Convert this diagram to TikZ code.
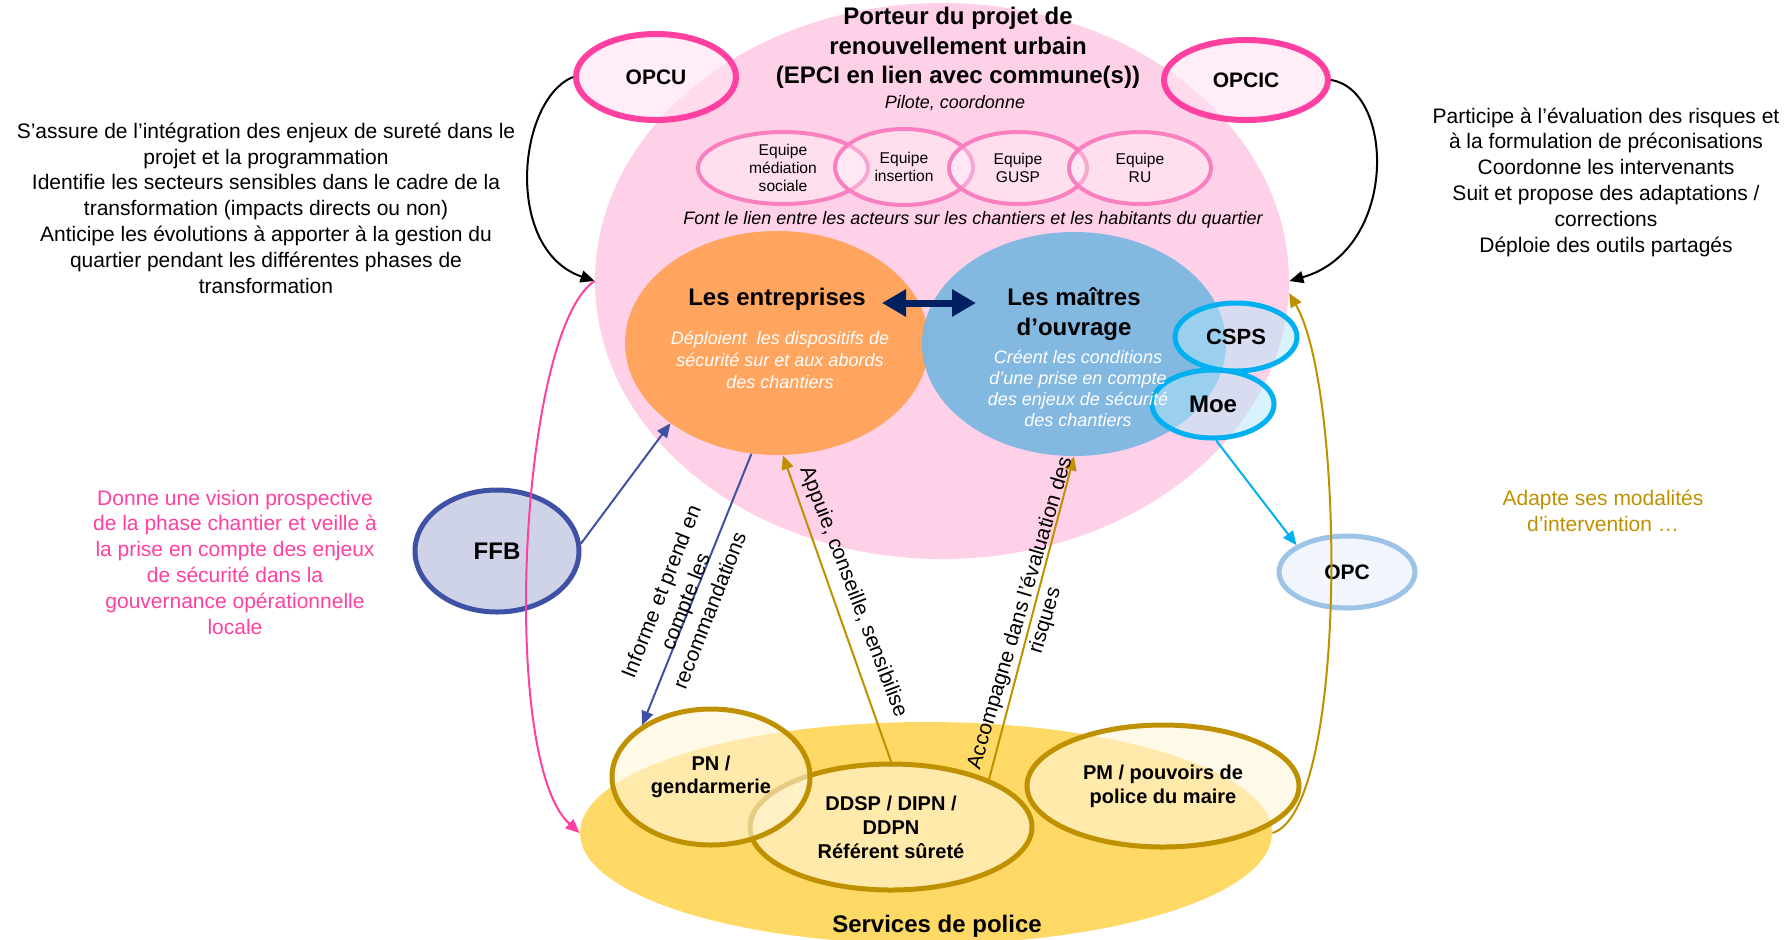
\documentclass[tikz,border=0pt]{standalone}
\usepackage{fontspec}
\setmainfont{Liberation Sans}
\usepackage{tikz}
\usetikzlibrary{arrows.meta,shapes.geometric}

\definecolor{rosefond}{RGB}{255,209,232}
\definecolor{roseopc}{RGB}{255,64,160}
\definecolor{roseequipe}{RGB}{248,128,192}
\definecolor{orangeent}{RGB}{255,165,95}
\definecolor{bleumo}{RGB}{124,183,224}
\definecolor{marine}{RGB}{0,32,96}
\definecolor{cyanmoe}{RGB}{0,176,240}
\definecolor{bleuopc}{RGB}{157,195,230}
\definecolor{indigoffb}{RGB}{63,81,165}
\definecolor{jaunepol}{RGB}{255,217,102}
\definecolor{orpol}{RGB}{191,144,0}

\tikzset{
  bulle/.style={ellipse, inner sep=0pt, align=center},
  opcbulle/.style={bulle, draw=roseopc, line width=3pt, fill=rosefond!60, fill opacity=0.6, text opacity=1, font=\bfseries\fontsize{10.5}{12}\selectfont},
  equipe/.style={bulle, draw=roseequipe, line width=2pt, fill=white, fill opacity=0.3, text opacity=1, font=\fontsize{7.8}{9}\selectfont},
  moebulle/.style={bulle, draw=cyanmoe, line width=2.5pt, fill=cyanmoe!30, fill opacity=0.5, text opacity=1},
  service/.style={bulle, draw=orpol, line width=2.5pt, fill=jaunepol!25, fill opacity=0.6, text opacity=1, font=\bfseries\fontsize{10}{12}\selectfont},
  titre/.style={align=center, inner sep=0pt, font=\bfseries\fontsize{12}{15}\selectfont},
  role/.style={align=center, inner sep=0pt, text=white, font=\itshape\fontsize{9}{11}\selectfont},
  texte/.style={align=center, inner sep=0pt, font=\fontsize{10.5}{12.9}\selectfont},
  lien/.style={align=center, inner sep=0pt, font=\fontsize{10.5}{13}\selectfont},
  fleche/.style={->, line width=1pt}
}

\begin{document}
\begin{tikzpicture}[x=0.5pt, y=-0.5pt, >={Triangle[length=7pt,width=6pt]}]
  \useasboundingbox (0,0) rectangle (1789,939);

  \node[bulle, fill=rosefond, minimum width=347pt, minimum height=278pt] (Porteur) at (942,281) {};
  \node[opcbulle, minimum width=80pt, minimum height=43pt] (OPCU) at (656,77) {OPCU};
  \node[opcbulle, minimum width=82pt, minimum height=40pt] (OPCIC) at (1246,80) {OPCIC};
  \node[titre, font=\bfseries\fontsize{12}{14.75}\selectfont] (PorteurT) at (958,48) {Porteur du projet de\\renouvellement urbain\\(EPCI en lien avec commune(s))};
  \node[texte, font=\itshape\fontsize{9}{11}\selectfont] (Pilote) at (955,103) {Pilote, coordonne};

  \node[equipe, minimum width=85pt, minimum height=36pt] (EqMediation) at (783,168) {Equipe\\médiation\\sociale};
  \node[equipe, minimum width=69pt, minimum height=38pt] (EqInsertion) at (904,167) {Equipe\\insertion};
  \node[equipe, minimum width=69pt, minimum height=36pt] (EqGUSP) at (1018,168) {Equipe\\GUSP};
  \node[equipe, minimum width=71pt, minimum height=36pt] (EqRU) at (1140,168) {Equipe\\RU};
  \node[texte, font=\itshape\fontsize{9}{11}\selectfont] (LienHab) at (973,220) {Font le lien entre les acteurs sur les chantiers et les habitants du quartier};

  \node[bulle, fill=orangeent, minimum width=152pt, minimum height=112pt] (Entreprises) at (777,343) {};
  \node[bulle, fill=bleumo, fill opacity=0.94, minimum width=152pt, minimum height=112pt] (Maitres) at (1074,344) {};
  \node[titre] (EntreprisesT) at (777,299) {Les entreprises};
  \node[role] (EntreprisesR) at (780,360) {Déploient\ \ les dispositifs de\\sécurité sur et aux abords\\des chantiers};
  \node[titre] (MaitresT) at (1074,314) {Les maîtres\\d’ouvrage};
  \coordinate (LienE) at (882,303);
  \coordinate (LienM) at (976,303);
  \draw[<->, draw=marine, line width=3.5pt, >={Triangle[length=12pt,width=13pt]}] (LienE) -- (LienM);

  \node[moebulle, minimum width=61pt, minimum height=34pt, font=\bfseries\fontsize{11}{12}\selectfont] (CSPS) at (1236,337) {CSPS};
  \node[moebulle, minimum width=61pt, minimum height=34pt, font=\bfseries\fontsize{12}{13}\selectfont] (Moe) at (1213,404) {Moe};
  \node[role, font=\itshape\fontsize{9}{10.5}\selectfont] (MaitresR) at (1078,388) {Créent les conditions\\d’une prise en compte\\des enjeux de sécurité\\des chantiers};
  \node[bulle, draw=bleuopc, line width=2.5pt, fill=bleuopc!15, minimum width=68pt, minimum height=36pt, font=\bfseries\fontsize{10.5}{12}\selectfont] (OPC) at (1347,572) {OPC};
  \node[bulle, draw=indigoffb, line width=2.5pt, fill=indigoffb!25, minimum width=82pt, minimum height=61pt, font=\bfseries\fontsize{12}{13}\selectfont] (FFB) at (497,551) {FFB};

  \node[bulle, fill=jaunepol, minimum width=346pt, minimum height=111pt] (Police) at (926,833) {};
  \node[service, minimum width=141pt, minimum height=63pt] (DDSP) at (891,827) {DDSP / DIPN /\\DDPN\\Référent sûreté};
  \node[service, minimum width=99pt, minimum height=68pt, font=\bfseries\fontsize{10}{11.5}\selectfont] (PN) at (711,777) {PN /\\gendarmerie};
  \node[service, minimum width=136pt, minimum height=61pt] (PM) at (1163,786) {PM / pouvoirs de\\police du maire};
  \node[titre] (PoliceT) at (937,926) {Services de police};

  \node[texte] (MissionOPCU) at (266,208) {S’assure de l’intégration des enjeux de sureté dans le\\projet et la programmation\\Identifie les secteurs sensibles dans le cadre de la\\transformation (impacts directs ou non)\\Anticipe les évolutions à apporter à la gestion du\\quartier pendant les différentes phases de\\transformation};
  \node[texte] (MissionOPCIC) at (1606,182) {Participe à l’évaluation des risques et\\à la formulation de préconisations\\Coordonne les intervenants\\Suit et propose des adaptations /\\corrections\\Déploie des outils partagés};
  \node[texte, text=roseopc] (MissionFFB) at (235,562) {Donne une vision prospective\\de la phase chantier et veille à\\la prise en compte des enjeux\\de sécurité dans la\\gouvernance opérationnelle\\locale};
  \node[texte, text=orpol] (MissionPM) at (1603,511) {Adapte ses modalités\\d’intervention …};

  \draw[fleche, draw=indigoffb, fill=indigoffb] (FFB.5) -- (Entreprises.-143);
  \draw[fleche, draw=indigoffb, fill=indigoffb] (Entreprises.-103) -- (PN.143);
  \draw[fleche, draw=orpol, fill=orpol] (DDSP.90) -- (Entreprises.-87);
  \draw[fleche, draw=orpol, fill=orpol] (DDSP.26) -- (Maitres.-90);
  \draw[fleche, draw=cyanmoe, fill=cyanmoe] (Moe.-85) -- (OPC.152);
  \draw[fleche] (OPCU.west) .. controls +(-56,23) and +(-91,-31) .. (Porteur.west);
  \draw[fleche] (OPCIC.east) .. controls +(64,10) and +(109,-31) .. (Porteur.east);
  \draw[fleche, draw=roseopc] (Porteur.west) .. controls +(-75,49) and +(-81,-73) .. (Police.west);
  \draw[fleche, draw=orpol] (Police.east) .. controls +(76,-23) and +(56,96) .. (Porteur.-2);

  \node[lien, rotate=68.5] (Informe) at (685,601) {Informe et prend en\\compte les\\recommandations};
  \node[lien, rotate=-69] (Appuie) at (853,592) {Appuie, conseille, sensibilise};
  \node[lien, rotate=73.5] (Accompagne) at (1033,617) {Accompagne dans l’évaluation des\\risques};
\end{tikzpicture}
\end{document}
